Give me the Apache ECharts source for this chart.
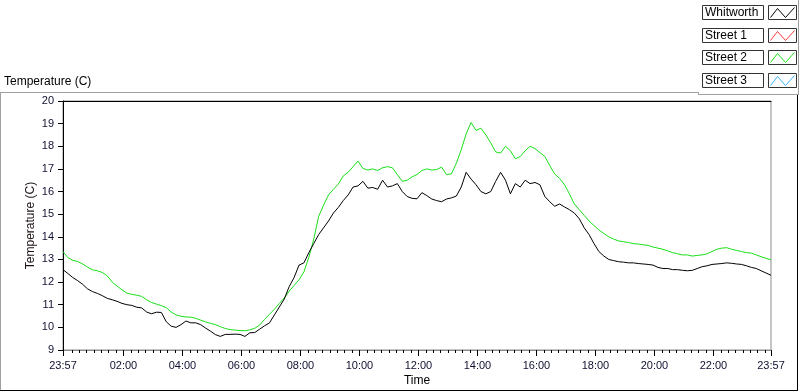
<!DOCTYPE html>
<html>
<head>
<meta charset="utf-8">
<script src="https://cdn.jsdelivr.net/npm/echarts@6/dist/echarts.min.js"></script>
<style>html,body{margin:0;padding:0;background:#fff;}#c{width:800px;height:392px;}</style>
</head>
<body>
<div id="c"></div>
<script>
// ---- data (minutes after 23:57, every 10 minutes) ----
const sampleStep = 10;
const sampleMinutes = [];
for (let m = 0; m <= 1440; m += sampleStep) sampleMinutes.push(m);

const whitworth = [
12.55,12.38,12.2,12.06,11.9,11.7,11.58,11.5,11.4,11.28,
11.22,11.15,11.06,11.0,10.97,10.89,10.86,10.68,10.6,10.67,
10.66,10.25,10.05,10.0,10.12,10.28,10.2,10.2,10.12,9.97,
9.83,9.68,9.6,9.69,9.69,9.7,9.69,9.6,9.76,9.77,
9.92,10.07,10.2,10.55,10.9,11.25,11.8,12.2,12.75,12.85,
13.3,13.7,14.1,14.4,14.7,15.05,15.3,15.6,15.85,16.2,
16.25,16.45,16.15,16.18,16.1,16.5,16.2,16.25,16.35,16.0,
15.78,15.7,15.68,15.95,15.82,15.67,15.6,15.55,15.67,15.72,
15.8,16.2,16.85,16.55,16.3,16.0,15.9,16.0,16.45,16.85,
16.5,15.9,16.35,16.2,16.5,16.35,16.4,16.3,15.78,15.55,
15.35,15.45,15.32,15.2,15.05,14.8,14.4,14.1,13.7,13.35,
13.15,13.0,12.95,12.9,12.88,12.85,12.85,12.82,12.8,12.78,
12.75,12.65,12.6,12.6,12.55,12.55,12.52,12.5,12.52,12.6,
12.68,12.72,12.78,12.8,12.82,12.85,12.83,12.8,12.78,12.72,
12.65,12.6,12.5,12.4,12.3
];

const street2 = [
13.35,13.08,12.96,12.91,12.8,12.66,12.54,12.5,12.42,12.28,
12.0,11.82,11.66,11.51,11.46,11.42,11.37,11.22,11.1,11.03,
10.96,10.87,10.68,10.55,10.49,10.46,10.45,10.4,10.32,10.24,
10.18,10.12,10.03,9.95,9.9,9.88,9.86,9.85,9.89,9.96,
10.1,10.35,10.58,10.8,11.05,11.3,11.6,11.85,12.1,12.45,
13.1,13.9,14.9,15.4,15.85,16.1,16.33,16.69,16.85,17.1,
17.35,17.02,16.95,17.0,16.93,17.05,17.1,17.05,16.75,16.45,
16.5,16.65,16.75,16.93,17.0,16.95,16.97,17.08,16.75,16.78,
17.25,17.85,18.55,19.05,18.7,18.8,18.5,18.15,17.75,17.7,
18.0,17.8,17.45,17.55,17.8,18.0,17.9,17.72,17.55,17.15,
16.78,16.58,16.3,15.9,15.45,15.2,14.95,14.7,14.5,14.3,
14.15,14.0,13.9,13.82,13.78,13.75,13.7,13.68,13.65,13.62,
13.55,13.5,13.45,13.38,13.3,13.25,13.2,13.2,13.15,13.18,
13.2,13.25,13.35,13.45,13.5,13.52,13.45,13.4,13.35,13.3,
13.28,13.2,13.12,13.05,12.98
];

const xTickOffsets = [0,123,243,363,483,603,723,843,963,1083,1203,1323,1440];
const xTickLabels = ['23:57','02:00','04:00','06:00','08:00','10:00','12:00','14:00','16:00','18:00','20:00','22:00','23:57'];
const yMin = 9, yMax = 20, yStep = 1;

const legendNames = ['Whitworth','Street 1','Street 2','Street 3'];
const legendColors = ['#000000','#ff3a3a','#18e018','#3ab4ff'];

// minor ticks every 15 minutes of clock time
const minorTicks = [];
for (let clock = 15; clock < 1440; clock += 15) {
  const off = clock + 3;
  if (off >= 1440) break;
  if (xTickOffsets.indexOf(off) === -1) minorTicks.push(off);
}

const FONT = '"Liberation Sans", Arial, sans-serif';

const chart = echarts.init(document.getElementById('c'), null, {renderer: 'canvas'});

const graphics = [];
graphics.push({type:'line', shape:{x1:0, y1:92.5, x2:698, y2:92.5}, style:{stroke:'#a0a0a0', lineWidth:1}});
graphics.push({type:'line', shape:{x1:698.5, y1:92, x2:698.5, y2:95}, style:{stroke:'#a0a0a0', lineWidth:1}});
graphics.push({type:'line', shape:{x1:698, y1:94.5, x2:798, y2:94.5}, style:{stroke:'#a0a0a0', lineWidth:1}});
graphics.push({type:'line', shape:{x1:798.5, y1:0, x2:798.5, y2:95}, style:{stroke:'#a0a0a0', lineWidth:1}});
graphics.push({type:'line', shape:{x1:0.5, y1:92, x2:0.5, y2:391}, style:{stroke:'#a0a0a0', lineWidth:1}});
graphics.push({type:'line', shape:{x1:0, y1:390.5, x2:798, y2:390.5}, style:{stroke:'#000', lineWidth:1}});
graphics.push({type:'line', shape:{x1:797.5, y1:95, x2:797.5, y2:391}, style:{stroke:'#000', lineWidth:1}});
graphics.push({type:'text', left:4, top:76, style:{text:'Temperature (C)', font:'12px ' + FONT, fill:'#000'}});
const rowTops = [5, 28, 50, 73];
legendNames.forEach((name, i) => {
  const y = rowTops[i];
  graphics.push({type:'rect', shape:{x:702.5, y:y+0.5, width:61, height:14}, style:{fill:'#fff', stroke:'#333', lineWidth:1}});
  graphics.push({type:'text', x:705, y:y+8, style:{text:name, font:'12px ' + FONT, fill:'#000', verticalAlign:'middle'}});
  graphics.push({type:'rect', shape:{x:768.5, y:y+0.5, width:28, height:14}, style:{fill:'#fff', stroke:'#333', lineWidth:1}});
  graphics.push({type:'polyline', shape:{points:[[770.5,y+12.5],[777.5,y+3.5],[785.5,y+12.5],[794.5,y+2.5]]}, style:{stroke:legendColors[i], lineWidth:1, fill:null}});
});

const option = {
  animation: false,
  backgroundColor: '#fff',
  textStyle: {fontFamily: FONT},
  grid: {left: 63, top: 101, right: 29, bottom: 40, show: true, borderColor: '#8c8c8c', borderWidth: 1, backgroundColor: '#fff'},
  xAxis: [
    {
      type: 'value', min: 0, max: 1440,
      name: 'Time', nameLocation: 'middle', nameGap: 25, nameMoveOverlap: false,
      nameTextStyle: {color: '#000', fontSize: 12, fontFamily: FONT},
      axisLine: {show: true, lineStyle: {color: '#8c8c8c', width: 1}},
      axisTick: {show: true, length: 6, customValues: xTickOffsets, lineStyle: {color: '#000'}},
      axisLabel: {show: true, customValues: xTickOffsets, margin: 10, color: '#101030', fontSize: 11, fontFamily: FONT,
        formatter: (v) => { const k = xTickOffsets.indexOf(Math.round(v)); return k >= 0 ? xTickLabels[k] : ''; }},
      splitLine: {show: false}
    },
    {
      type: 'value', min: 0, max: 1440, position: 'bottom',
      axisLine: {show: false},
      axisTick: {show: true, length: 3, customValues: minorTicks, lineStyle: {color: '#000'}},
      axisLabel: {show: false},
      splitLine: {show: false}
    },
    {
      type: 'value', min: 0, max: 1440, position: 'top',
      axisLine: {show: true, lineStyle: {color: '#000', width: 1}},
      axisTick: {show: false}, axisLabel: {show: false}, splitLine: {show: false}
    }
  ],
  yAxis: {
    type: 'value', min: yMin, max: yMax, interval: yStep,
    name: 'Temperature (C)', nameLocation: 'middle', nameGap: 26, nameRotate: 90, nameMoveOverlap: false,
    nameTextStyle: {color: '#1a1010', fontSize: 12, fontFamily: FONT},
    axisLine: {show: true, lineStyle: {color: '#000', width: 1}},
    axisTick: {show: true, length: 5, lineStyle: {color: '#000'}},
    axisLabel: {margin: 9, color: '#101030', fontSize: 11, fontFamily: FONT},
    splitLine: {show: false}
  },
  series: [
    {name: 'Whitworth', type: 'line', xAxisIndex: 0, showSymbol: false, symbol: 'none',
     data: sampleMinutes.map((m, i) => [m, whitworth[i]]),
     lineStyle: {color: legendColors[0], width: 1}, z: 3},
    {name: 'Street 2', type: 'line', xAxisIndex: 0, showSymbol: false, symbol: 'none',
     data: sampleMinutes.map((m, i) => [m, street2[i]]),
     lineStyle: {color: legendColors[2], width: 1}, z: 2}
  ],
  graphic: graphics
};
chart.setOption(option);
</script>
</body>
</html>
